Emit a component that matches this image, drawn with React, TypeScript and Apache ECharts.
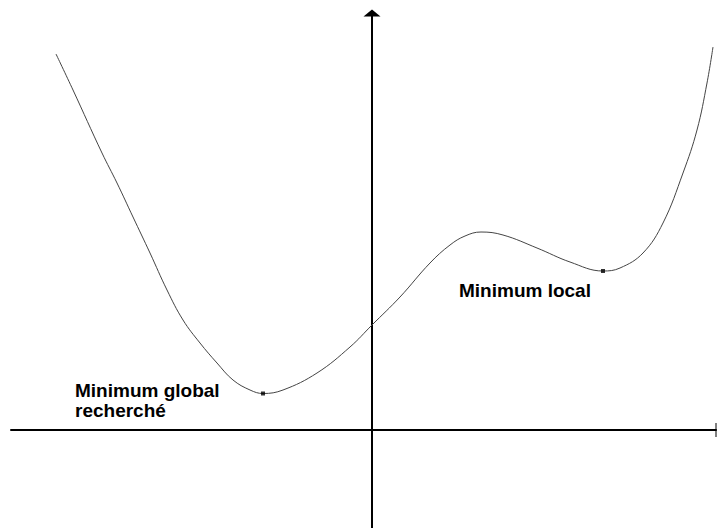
import React, { useEffect, useRef } from "react";
import * as echarts from "echarts";

// Curve samples (x, y) in axis units (1 unit = 100 px)
const curveX = [
  -3.16, -2.99, -2.7, -2.55, -2.39, -2.22, -2.05, -1.89, -1.72, -1.55, -1.39, -1.22, -1.09,
  -0.89, -0.55, -0.22, 0.0, 0.28, 0.58, 0.78, 0.93, 1.09, 1.31, 1.65, 1.98, 2.31, 2.48, 2.71,
  2.91, 3.11, 3.25, 3.35, 3.41,
];
const curveY = [
  3.76, 3.4, 2.77, 2.47, 2.13, 1.77, 1.4, 1.1, 0.87, 0.67, 0.5, 0.4, 0.365,
  0.4, 0.57, 0.83, 1.05, 1.33, 1.67, 1.85, 1.94, 1.98, 1.95, 1.82, 1.68, 1.59, 1.62, 1.77,
  2.07, 2.57, 3.0, 3.47, 3.83,
];

// Minima markers
const minimaX = [-1.09, 2.31];
const minimaY = [0.365, 1.59];

// Annotation texts
const labelGlobal = "Minimum global\nrecherché";
const labelLocal = "Minimum local";

// Axis extents
const xMin = -3.61;
const xMax = 3.44;
const yMin = -0.98;
const yMax = 4.17;

export default function App() {
  const ref = useRef<HTMLDivElement>(null);

  useEffect(() => {
    if (!ref.current) return;
    const chart = echarts.init(ref.current, null, { renderer: "svg" });
    const font = 'bold 19px "Liberation Sans", Arial, sans-serif';
    chart.setOption({
      animation: false,
      backgroundColor: "#ffffff",
      grid: { left: 11, right: 1, top: 13, bottom: 0, containLabel: false },
      xAxis: {
        type: "value",
        min: xMin,
        max: xMax,
        axisLabel: { show: false },
        axisTick: { show: false },
        splitLine: { show: false },
        axisLine: {
          show: true,
          onZero: true,
          symbol: ["none", "rect"],
          symbolSize: [14, 1],
          lineStyle: { color: "#000", width: 2 },
        },
      },
      yAxis: {
        type: "value",
        min: yMin,
        max: yMax,
        axisLabel: { show: false },
        axisTick: { show: false },
        splitLine: { show: false },
        axisLine: {
          show: true,
          onZero: true,
          symbol: ["none", "triangle"],
          symbolSize: [17, 7],
          lineStyle: { color: "#000", width: 2 },
        },
      },
      series: [
        {
          type: "line",
          data: curveX.map((x, i) => [x, curveY[i]]),
          smooth: 0.4,
          symbol: "none",
          lineStyle: { color: "#444", width: 1 },
          z: 3,
        },
        {
          type: "scatter",
          data: minimaX.map((x, i) => [x, minimaY[i]]),
          symbol: "rect",
          symbolSize: 4,
          itemStyle: { color: "#000" },
          z: 4,
        },
      ],
      graphic: [
        {
          type: "text",
          left: 75,
          top: 380,
          style: { text: labelGlobal, font, fill: "#000", lineHeight: 20 },
        },
        {
          type: "text",
          left: 459,
          top: 280,
          style: { text: labelLocal, font, fill: "#000", lineHeight: 20 },
        },
      ],
    });
    return () => chart.dispose();
  }, []);

  return (
    <div
      ref={ref}
      style={{ position: "fixed", left: 0, top: 0, width: 717, height: 528, background: "#fff" }}
    />
  );
}
